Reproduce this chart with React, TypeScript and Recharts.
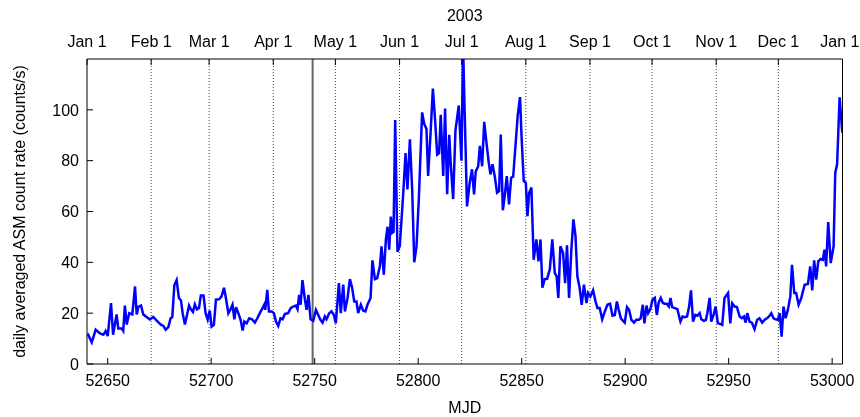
import React from 'react';
import { Label, Line, LineChart, ReferenceLine, XAxis, YAxis } from 'recharts';

// MJD of each daily average
const mjd = [
  52640.3, 52642.3, 52644.2, 52646.3, 52647.9, 52649.0, 52650.0, 52651.6, 52652.6, 52654.3,
  52655.1, 52656.7, 52657.5, 52658.3, 52659.2, 52660.4, 52661.9, 52663.2, 52664.0, 52664.8,
  52666.1, 52667.2, 52668.8, 52670.4, 52672.0, 52673.2, 52674.4, 52675.7, 52676.9, 52678.0,
  52679.3, 52680.4, 52681.2, 52682.2, 52683.3, 52684.4, 52685.4, 52686.2, 52687.3, 52688.1,
  52689.3, 52690.2, 52691.2, 52692.1, 52693.1, 52694.1, 52695.0, 52696.3, 52697.3, 52698.3,
  52699.3, 52700.2, 52701.3, 52702.3, 52703.9, 52705.0, 52706.2, 52707.1, 52708.3, 52709.4,
  52710.3, 52711.2, 52712.0, 52713.1, 52714.2, 52715.2, 52716.0, 52717.1, 52718.4, 52719.7,
  52721.1, 52722.3, 52723.5, 52724.8, 52725.6, 52726.1, 52727.1, 52727.9, 52729.2, 52730.3,
  52731.3, 52732.4, 52733.5, 52734.5, 52735.6, 52737.2, 52738.4, 52739.6, 52740.9, 52741.7,
  52742.5, 52743.2, 52744.1, 52745.3, 52746.1, 52747.0, 52748.0, 52749.3, 52750.6, 52751.7,
  52752.8, 52753.8, 52754.9, 52755.7, 52757.0, 52758.1, 52759.3, 52760.2, 52761.7, 52762.6,
  52763.8, 52764.6, 52765.9, 52767.0, 52768.1, 52769.1, 52770.2, 52771.0, 52772.3, 52773.4,
  52774.5, 52775.5, 52777.0, 52777.9, 52779.1, 52780.2, 52781.5, 52782.3, 52783.4, 52784.4,
  52785.2, 52786.0, 52786.8, 52787.4, 52788.1, 52788.9, 52790.0, 52791.1, 52792.7, 52793.9,
  52794.8, 52796.0, 52797.1, 52798.1, 52799.2, 52800.3, 52801.9, 52802.9, 52804.0, 52804.8,
  52806.0, 52807.1, 52808.0, 52809.2, 52810.1, 52810.9, 52812.1, 52813.0, 52814.0, 52815.0,
  52815.8, 52816.9, 52818.0, 52819.6, 52820.9, 52821.7, 52822.5, 52823.6, 52824.9, 52826.0,
  52827.0, 52827.8, 52829.0, 52829.8, 52830.9, 52831.9, 52833.0, 52834.1, 52834.9, 52835.9,
  52837.0, 52838.1, 52839.1, 52839.9, 52840.9, 52841.8, 52842.8, 52843.9, 52844.9, 52845.9,
  52847.0, 52848.1, 52849.2, 52850.0, 52851.0, 52852.0, 52852.8, 52853.6, 52854.7, 52855.8,
  52857.1, 52858.1, 52859.1, 52860.0, 52861.1, 52862.3, 52863.6, 52864.8, 52866.0, 52866.9,
  52867.7, 52868.7, 52870.0, 52871.0, 52871.9, 52872.9, 52874.0, 52875.0, 52876.0, 52876.9,
  52878.0, 52879.0, 52880.1, 52881.3, 52882.1, 52883.2, 52884.5, 52885.7, 52886.6, 52887.7,
  52888.9, 52890.2, 52891.4, 52892.7, 52893.9, 52895.0, 52896.0, 52896.9, 52897.9, 52899.0,
  52899.8, 52900.9, 52901.9, 52903.0, 52904.3, 52905.4, 52906.6, 52907.5, 52908.5, 52909.3,
  52910.3, 52911.1, 52912.2, 52913.2, 52914.3, 52915.3, 52916.2, 52917.2, 52918.2, 52919.1,
  52920.1, 52921.1, 52921.9, 52922.7, 52924.0, 52925.2, 52926.7, 52927.7, 52928.8, 52929.9,
  52930.9, 52931.8, 52932.8, 52933.9, 52934.9, 52936.0, 52936.8, 52938.0, 52939.0, 52939.7,
  52940.8, 52941.6, 52942.7, 52943.7, 52944.8, 52945.9, 52946.9, 52948.0, 52949.7, 52950.8,
  52951.7, 52952.9, 52954.0, 52955.3, 52956.4, 52957.4, 52958.2, 52959.0, 52960.1, 52961.2,
  52962.5, 52963.8, 52964.9, 52966.2, 52967.4, 52968.5, 52969.5, 52970.6, 52971.7, 52972.7,
  52973.8, 52974.6, 52975.6, 52976.5, 52977.5, 52978.6, 52979.8, 52980.6, 52981.7, 52982.6,
  52983.8, 52985.1, 52986.7, 52988.3, 52989.4, 52990.4, 52991.3, 52992.3, 52993.3, 52994.4,
  52995.5, 52996.3, 52997.1, 52998.1, 52999.3, 53000.7, 53001.5, 53002.4, 53003.6, 53004.9,
];

// daily averaged ASM count rate (counts/s)
const rate = [
  12, 8.5, 13.5, 12, 11.5, 13, 11, 24, 11.5, 19.5,
  14, 14, 13, 23, 15.5, 20, 19.5, 30.5, 19.5, 22.5,
  23, 19.5, 18.5, 17.5, 18.5, 17.5, 16.5, 15.5, 15, 13.5,
  14.5, 18, 18.5, 31, 33, 26, 25, 20, 15.5, 18.5,
  23, 21.5, 20.5, 23.5, 21.5, 22, 27, 27, 20, 17.5,
  21, 14.7, 15.4, 25.3, 25.5, 26.6, 30, 26, 20, 21.6,
  23.3, 17.6, 22.4, 20, 17.4, 13.2, 16.7, 16, 18, 17.6,
  16.3, 18, 20, 22, 23.3, 21.3, 29.2, 20.7, 20.7, 20,
  16.7, 15, 18, 17.6, 19.7, 20, 22, 22.6, 23, 21.6,
  27.2, 23.3, 33, 25.3, 21.3, 27.2, 17.6, 17, 21.3, 19.3,
  17.4, 16.3, 18.7, 17.6, 20, 20.7, 19.3, 16, 31.8, 20,
  31.2, 20.7, 26, 33.4, 30, 24.6, 24.6, 20, 23.3, 21,
  20.7, 23.3, 26, 40.8, 33.4, 33.8, 38.4, 46.3, 35.1, 49,
  54, 45, 58, 51.6, 52, 96, 44.2, 46.3, 66, 83,
  68.7, 88.4, 68.7, 40, 46.3, 64.7, 99, 94.5, 92.5, 74,
  91, 108.4, 98, 82.4, 83, 98, 74, 100.5, 66.8, 90.2,
  77.8, 64.9, 91.8, 101.7, 80, 125, 98, 62, 71.3, 76.6,
  66.7, 75.8, 77.8, 85.8, 77.8, 95.3, 87, 79.2, 74.6, 78.6,
  73.9, 67.4, 68, 90.3, 60.5, 66, 73.9, 62.8, 73.3, 73.7,
  85.8, 97.9, 105, 88.4, 72, 71.3, 58.2, 67.4, 69.4, 41,
  49, 40.4, 49, 30, 33.4, 33.5, 37.3, 49, 35.8, 34.5,
  26, 46.3, 43.7, 31.8, 46.7, 26, 45, 56.9, 50.4, 34.5,
  30, 23.3, 31.2, 24, 28, 26.6, 29, 24.6, 22, 22,
  17.6, 20.7, 23.3, 23.7, 19, 19.3, 24.6, 21.3, 18, 17,
  16.3, 22.4, 21.3, 17.4, 16.3, 17.4, 17.4, 18, 23.3, 16,
  23, 20, 21.6, 25.3, 26, 19.3, 24.2, 26, 24, 23.7,
  23.7, 22.6, 26, 22.4, 22, 21.6, 16.7, 18.7, 18.4, 18.7,
  22.6, 29, 16.7, 19.3, 19, 20, 17.6, 17, 17.4, 20,
  26, 16.7, 19.3, 22.6, 16, 15.8, 15.4, 26, 27.9, 16,
  23.9, 22.6, 22.4, 18.7, 18, 18.7, 16.3, 20, 16.7, 16.3,
  13.7, 17.4, 18, 16.3, 17.4, 18, 18.7, 20, 18, 17.6,
  17.4, 20, 10.8, 22.6, 18, 21.3, 26.6, 39, 27.9, 27.9,
  23.3, 26, 31.2, 31.5, 38.4, 29, 40.8, 33.2, 40.4, 41.3,
  41, 45, 38.4, 55.8, 39.7, 46.3, 75.3, 78.6, 104.9, 91,
];

const mjdTicks = [52650, 52700, 52750, 52800, 52850, 52900, 52950, 53000];
const rateTicks = [0, 20, 40, 60, 80, 100];
const monthMjd = [52640, 52671, 52699, 52730, 52760, 52791, 52821, 52852, 52883, 52913, 52944, 52974, 53005];
const monthLabels = ['Jan 1', 'Feb 1', 'Mar 1', 'Apr 1', 'May 1', 'Jun 1', 'Jul 1', 'Aug 1', 'Sep 1', 'Oct 1', 'Nov 1', 'Dec 1', 'Jan 1'];
const markerMjd = 52749;

const data = mjd.map((m, i) => ({ mjd: m, rate: rate[i] }));

const font = 'Liberation Sans, Arial, Helvetica, sans-serif';
const tickStyle = { fontSize: 16, fill: '#000', fontFamily: font };
const chartW = 860;
const chartH = 417;

// month labels above the frame; the last one is pulled in so it stays on the page
const MonthTick = (props: any) => {
  const { x, y, payload, index } = props;
  const label = monthLabels[monthMjd.indexOf(payload.value)] ?? '';
  const last = index === monthMjd.length - 1;
  return (
    <text
      x={last ? chartW - 0.5 : x}
      y={y}
      textAnchor={last ? 'end' : 'middle'}
      fontSize={16}
      fontFamily={font}
      fill="#000"
    >
      {label}
    </text>
  );
};

const App: React.FC = () => {
  // pinned to the window corner so the body margin doesn't push it into scrollbars
  return (
    <div style={{ fontFamily: font, position: 'fixed', left: 0, top: 0, width: chartW, height: chartH }}>
      <LineChart width={chartW} height={chartH} data={data} margin={{ top: 0, right: 0, bottom: 0, left: 0 }}>
        <XAxis
          xAxisId="mjd"
          dataKey="mjd"
          type="number"
          domain={[52640, 53005]}
          ticks={mjdTicks}
          allowDataOverflow
          height={53}
          tickSize={-6}
          tickMargin={17}
          tick={tickStyle}
          stroke="#000"
        >
          <Label
            content={({ viewBox }: any) => (
              <text x={viewBox.x + viewBox.width / 2} y={413} textAnchor="middle" fontSize={16} fontFamily={font} fill="#000">
                MJD
              </text>
            )}
          />
        </XAxis>
        <XAxis
          xAxisId="month"
          dataKey="mjd"
          type="number"
          orientation="top"
          domain={[52640, 53005]}
          ticks={monthMjd}
          allowDataOverflow
          height={59}
          tickSize={-6}
          tickMargin={18}
          interval={0}
          tick={<MonthTick />}
          stroke="#000"
        >
          <Label
            content={({ viewBox }: any) => (
              <text x={viewBox.x + viewBox.width / 2} y={21} textAnchor="middle" fontSize={16} fontFamily={font} fill="#000">
                2003
              </text>
            )}
          />
        </XAxis>
        <YAxis
          yAxisId="left"
          type="number"
          domain={[0, 120]}
          ticks={rateTicks}
          allowDataOverflow
          width={87}
          tickSize={-6}
          tickMargin={14}
          tick={tickStyle}
          stroke="#000"
        >
          <Label
            content={({ viewBox }: any) => {
              const cy = viewBox.y + viewBox.height / 2;
              return (
                <text
                  x={24.5}
                  y={cy}
                  transform={`rotate(-90, 24.5, ${cy})`}
                  textAnchor="middle"
                  fontSize={16}
                  fontFamily={font}
                  fill="#000"
                >
                  daily averaged ASM count rate (counts/s)
                </text>
              );
            }}
          />
        </YAxis>
        <YAxis
          yAxisId="right"
          orientation="right"
          type="number"
          domain={[0, 120]}
          ticks={rateTicks}
          allowDataOverflow
          width={17.5}
          tickSize={-6}
          tick={false}
          stroke="#000"
        />
        {monthMjd.slice(1, -1).map((m) => (
          <ReferenceLine
            key={m}
            x={m}
            xAxisId="mjd"
            yAxisId="left"
            stroke="#444"
            strokeWidth={1}
            strokeDasharray="1 2"
          />
        ))}
        <ReferenceLine x={markerMjd} xAxisId="mjd" yAxisId="left" stroke="#666" strokeWidth={2} />
        <Line
          xAxisId="mjd"
          yAxisId="left"
          type="linear"
          dataKey="rate"
          stroke="#0000ff"
          strokeWidth={2.5}
          dot={false}
          isAnimationActive={false}
        />
      </LineChart>
    </div>
  );
};

export default App;
